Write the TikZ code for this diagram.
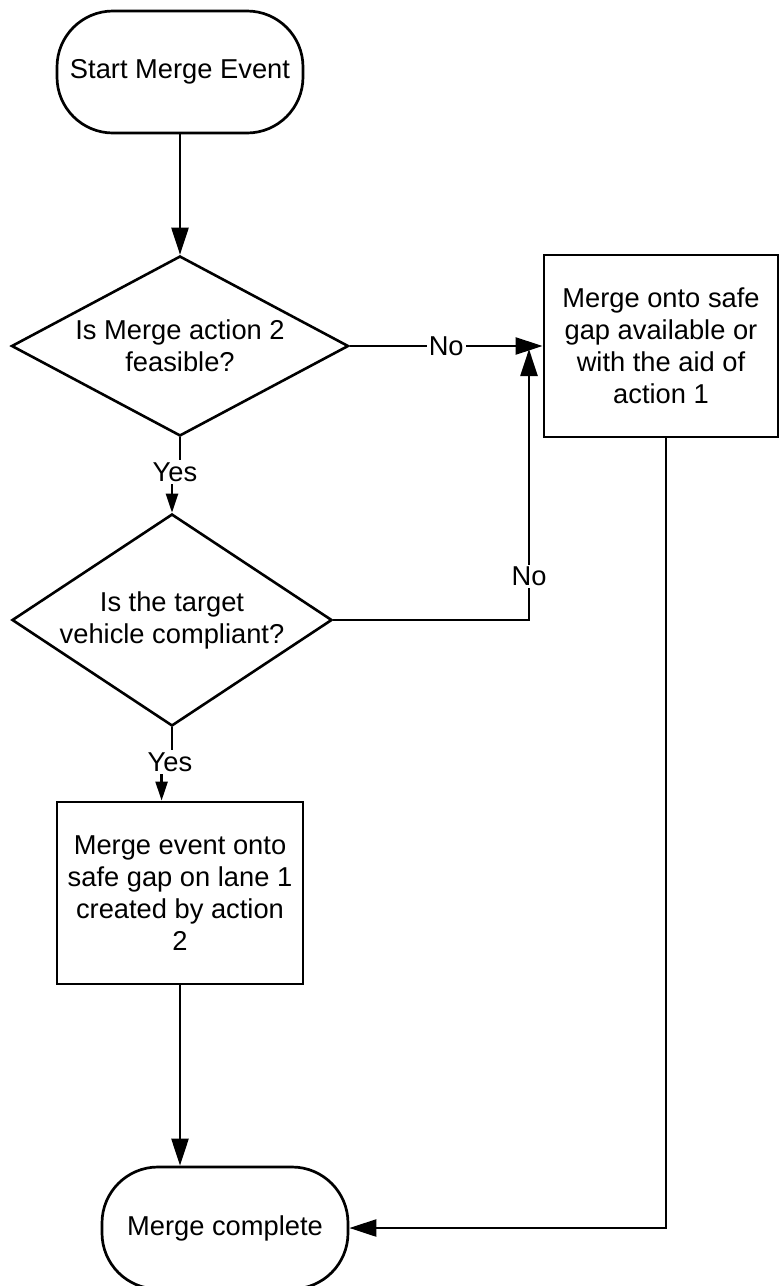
\documentclass[tikz,border=0pt]{standalone}
\usepackage{fontspec}
\setmainfont{Liberation Sans}
\usetikzlibrary{shapes.geometric,arrows.meta}
\begin{document}
\begin{tikzpicture}[x=1pt,y=-1pt,
  every node/.style={font=\fontsize{27.3}{32}\selectfont},
  term/.style={draw, line width=2.7pt, rectangle, rounded corners=56pt,
    minimum width=246pt, minimum height=122pt, inner sep=0pt, align=center},
  procbox/.style={draw, line width=2.8pt, rectangle, minimum height=182pt,
    inner sep=0pt, align=center},
  decision/.style={draw, diamond, line width=2.6pt, inner sep=0pt, align=center},
  conn/.style={line width=2.4pt},
  bighead/.style={-{Triangle[length=27pt,width=17pt]}},
  smallhead/.style={-{Triangle[length=19pt,width=12pt]}},
  lbl/.style={fill=white, inner sep=2pt}]

\useasboundingbox (0,0) rectangle (779,1286);

% shapes
\node[term] (t1) at (180,72) {Start Merge Event};
\node[decision, minimum width=337pt, minimum height=180pt, aspect=1.87]
  (d1) at (180,346) {Is Merge action 2\\feasible?};
\node[procbox, minimum width=234pt] (b1) at (661,346)
  {Merge onto safe\\gap available or\\with the aid of\\action 1};
\node[decision, minimum width=320pt, minimum height=212pt, aspect=1.5]
  (d2) at (172,620) {Is the target\\vehicle compliant?};
\node[procbox, minimum width=246pt] (b2) at (180,893)
  {Merge event onto\\safe gap on lane 1\\created by action\\2};
\node[term] (t2) at (225,1228) {Merge complete};

% helper points
\coordinate (ylev1) at (0,472);
\coordinate (ylev2) at (0,762);
\coordinate (jn) at (529,349);
\coordinate (b2in) at ([xshift=106pt]b2.north west);
\coordinate (b1out) at ([xshift=5pt]b1.south);

% connectors
\draw[conn, bighead] (t1.south) -- (d1.north);
\draw[conn, bighead] (d1.east) -- node[lbl] (no1) {No} (b1.west);
\draw[conn, smallhead] (d1.south) -- (d1.south |- ylev1) -- (d2.north |- ylev1) -- (d2.north);
\node[lbl] (yes1) at (175,472) {Yes};
\draw[conn, bighead] (d2.east) -- (d2.east -| jn) -- node[lbl, pos=0.16] (no2) {No} (jn);
\draw[conn, smallhead] (d2.south) -- (d2.south |- ylev2) -- (b2in |- ylev2) -- (b2in);
\node[lbl] (yes2) at (170,762) {Yes};
\draw[conn, bighead] (b2.south) -- (b2.south |- t2.north);
\draw[conn, bighead] (b1out) -- (b1out |- t2.east) -- (t2.east);

\end{tikzpicture}
\end{document}
